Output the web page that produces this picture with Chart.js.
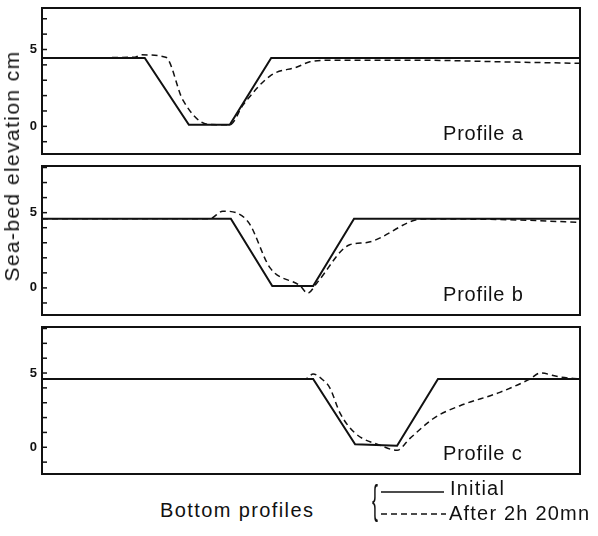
<!DOCTYPE html>
<html>
<head>
<meta charset="utf-8">
<script src="https://cdn.jsdelivr.net/npm/chart.js@4.4.1/dist/chart.umd.min.js"></script>
<style>
  body { margin: 0; background: #fff; }
  #wrap { position: relative; width: 598px; height: 536px; font-family: "Liberation Sans", Arial, sans-serif; color: #111; }
  canvas { position: absolute; left: 0; }
  .txt { position: absolute; white-space: nowrap; font-size: 20px; }
  #ytitle { left: 12px; top: 166px; font-size: 21px; letter-spacing: 1.4px; transform: translate(-50%, -50%) rotate(-90deg); }
</style>
</head>
<body>
<div id="wrap">
  <canvas id="pa" width="598" height="162" style="top:0px"></canvas>
  <canvas id="pb" width="598" height="165" style="top:158px"></canvas>
  <canvas id="pc" width="598" height="163" style="top:319px"></canvas>
  <div class="txt" id="ytitle">Sea-bed elevation cm</div>
  <div class="txt" style="left:160px; top:499px; letter-spacing:1.4px;">Bottom profiles</div>
  <div class="txt" style="left:372px; top:478px; font-size:40px; transform:scaleX(0.45); transform-origin:left top; font-weight:300;">{</div>
  <svg style="position:absolute; left:380px; top:480px;" width="70" height="45">
    <line x1="1" y1="12" x2="64" y2="12" stroke="#111" stroke-width="1.6"/>
    <line x1="1" y1="34" x2="66" y2="34" stroke="#111" stroke-width="1.6" stroke-dasharray="6 4"/>
  </svg>
  <div class="txt" style="left:450px; top:477px; letter-spacing:1.2px;">Initial</div>
  <div class="txt" style="left:449px; top:502px; letter-spacing:1.2px;">After 2h 20mn</div>
</div>
<script>
// distance along flume, 0..100 (arbitrary units), elevation in cm
const aInitialX = [0, 19.1, 27.3, 34.9, 42.6, 100];
const aInitialY = [4.45, 4.45, 0.1, 0.1, 4.45, 4.45];
const aAfterX = [0, 17.3, 18.5, 23.0, 26.2, 30.9, 34.9, 37.4, 42.6, 47.4, 49.8, 53.5, 70.3, 85.1, 100];
const aAfterY = [4.45, 4.5, 4.65, 4.5, 1.7, 0.13, 0.1, 1.4, 3.33, 3.86, 4.2, 4.3, 4.3, 4.2, 4.1];

const bInitialX = [0, 35.1, 42.8, 50.4, 58.0, 100];
const bInitialY = [4.6, 4.6, 0.13, 0.13, 4.6, 4.6];
const bAfterX = [0, 31.2, 33.6, 38.3, 42.4, 48.0, 49.4, 51.1, 57.2, 60.4, 70.8, 87.0, 100];
const bAfterY = [4.6, 4.6, 5.1, 4.4, 1.33, 0.13, -0.35, 0.33, 2.87, 3.02, 4.58, 4.53, 4.35];

const cInitialX = [0, 50.4, 58.2, 66.0, 73.6, 100];
const cInitialY = [4.6, 4.6, 0.2, 0.1, 4.6, 4.6];
const cAfterX = [0, 48.9, 50.4, 52.0, 53.5, 55.4, 58.2, 62.8, 66.0, 68.4, 73.0, 77.7, 85.1, 90.7, 92.6, 96.3, 100];
const cAfterY = [4.6, 4.6, 4.93, 4.6, 4.0, 2.3, 0.95, 0.14, -0.2, 0.6, 2.0, 2.8, 3.7, 4.6, 5.0, 4.73, 4.6];

const yTickLabels = [0, 5];
const panelNames = ["Profile a", "Profile b", "Profile c"];

const zip = (xs, ys) => xs.map((x, i) => ({ x: x, y: ys[i] }));

const framePlugin = {
  id: "frame",
  afterDraw(chart, args, opts) {
    const ctx = chart.ctx;
    const a = chart.chartArea;
    const y = chart.scales.y;
    ctx.save();
    ctx.strokeStyle = "#111";
    ctx.lineWidth = 2;
    ctx.strokeRect(a.left, a.top, a.right - a.left, a.bottom - a.top);
    ctx.lineWidth = 1.5;
    y.ticks.forEach((t) => {
      const py = y.getPixelForValue(t.value);
      ctx.beginPath();
      ctx.moveTo(a.left, py);
      ctx.lineTo(a.left + 5, py);
      ctx.stroke();
    });
    ctx.fillStyle = "#111";
    ctx.font = '20px "Liberation Sans"';
    ctx.letterSpacing = "0.8px";
    ctx.textBaseline = "alphabetic";
    ctx.fillText(opts.label, 443, a.bottom - 14);
    ctx.restore();
  },
};

const makePanel = (id, label, initial, after, ymax) => {
  const config = {
    type: "line",
    data: {
      datasets: [
        {
          label: "Initial",
          data: initial,
          borderColor: "#111",
          borderWidth: 2,
          pointRadius: 0,
          tension: 0,
        },
        {
          label: "After 2h 20mn",
          data: after,
          borderColor: "#111",
          borderWidth: 1.5,
          borderDash: [6, 4],
          pointRadius: 0,
          cubicInterpolationMode: "monotone",
        },
      ],
    },
    options: {
      responsive: false,
      animation: false,
      layout: { padding: { top: 8, bottom: 8, right: 18, left: 0 } },
      plugins: { legend: { display: false }, tooltip: { enabled: false }, frame: { label: label } },
      scales: {
        x: { type: "linear", min: 0, max: 100, display: false },
        y: {
          min: -1.8,
          max: ymax,
          afterFit: (scale) => {
            scale.width = 42;
            scale.paddingTop = 0;
            scale.paddingBottom = 0;
          },
          border: { display: false },
          grid: { display: false, drawTicks: false },
          ticks: {
            stepSize: 1,
            includeBounds: false,
            autoSkip: false,
            padding: 5,
            color: "#111",
            font: { family: "Liberation Sans", size: 13, weight: "bold" },
            callback: (v) => (yTickLabels.some((l) => Math.abs(l - v) < 1e-6) ? String(Math.round(v)) : ""),
          },
        },
      },
    },
    plugins: [framePlugin],
  };
  return new Chart(document.getElementById(id).getContext("2d"), config);
};

makePanel("pa", panelNames[0], zip(aInitialX, aInitialY), zip(aAfterX, aAfterY), 7.7);
makePanel("pb", panelNames[1], zip(bInitialX, bInitialY), zip(bAfterX, bAfterY), 8.1);
makePanel("pc", panelNames[2], zip(cInitialX, cInitialY), zip(cAfterX, cAfterY), 8.1);
</script>
</body>
</html>
